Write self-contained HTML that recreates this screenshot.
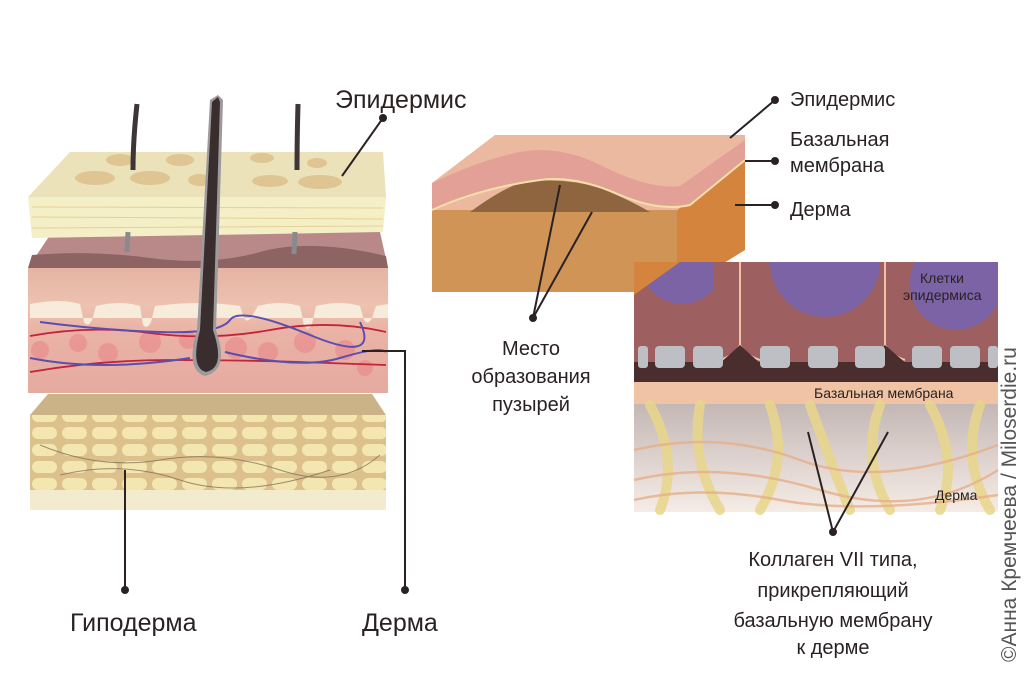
<!DOCTYPE html>
<html><head><meta charset="utf-8"><style>
body{margin:0;background:#fff;}
svg{display:block;font-family:"Liberation Sans","DejaVu Sans",sans-serif;}
</style></head><body>
<svg width="1024" height="683" viewBox="0 0 1024 683">
<defs>
<linearGradient id="dg" x1="0" y1="0" x2="0" y2="1">
<stop offset="0" stop-color="#6f6366"/><stop offset="0.45" stop-color="#b6a9a8"/><stop offset="1" stop-color="#f6ece6"/></linearGradient>
<linearGradient id="derm" x1="0" y1="0" x2="0" y2="1">
<stop offset="0" stop-color="#e6b4a3"/><stop offset="0.3" stop-color="#ecc2b0"/><stop offset="0.5" stop-color="#eab3a6"/><stop offset="1" stop-color="#e5aaa0"/></linearGradient>
<pattern id="fat" width="30" height="17" patternUnits="userSpaceOnUse">
<rect width="30" height="17" fill="#dcc18c"/><rect x="2" y="2" width="25" height="12" rx="6" fill="#f3e6b0"/></pattern>
</defs>
<!-- LEFT STACK -->
<polygon points="30,415 48,394 372,394 386,415" fill="#cbb387"/>
<rect x="30" y="415" width="356" height="78" fill="url(#fat)"/>
<rect x="30" y="490" width="356" height="20" fill="#f3ebcd"/>
<g stroke="#7a6650" stroke-width="1" fill="none" opacity="0.7"><path d="M40 445 Q100 470 160 460 T280 470 T380 455"/><path d="M60 475 Q120 460 180 480 T330 470"/></g>
<polygon points="28,268 52,232 380,232 388,268" fill="#b9898a"/>
<path d="M28 268 L32 255 Q90 250 150 258 T260 252 T386 256 L388 268Z" fill="#8d6364"/>
<rect x="28" y="268" width="360" height="125" fill="url(#derm)"/>
<path d="M30 304 Q60 298 80 304 L84 322 Q88 328 92 320 L96 306 Q120 300 140 306 L143 325 Q147 330 151 322 L155 306 Q200 300 240 306 L244 318 Q248 324 252 316 L258 306 Q280 300 300 306 L304 326 Q308 332 312 324 L316 306 Q340 300 360 306 L364 320 Q368 326 372 318 L376 306 L388 304 L388 318 L30 318Z" fill="#f7ecdc"/>
<g fill="#e9878c" opacity="0.6">
<circle cx="40" cy="350" r="9"/><circle cx="78" cy="343" r="9"/><circle cx="108" cy="353" r="10"/><circle cx="150" cy="342" r="11"/><circle cx="188" cy="340" r="9"/><circle cx="236" cy="348" r="11"/><circle cx="268" cy="352" r="10"/><circle cx="305" cy="342" r="11"/><circle cx="345" cy="350" r="10"/><circle cx="365" cy="368" r="8"/></g>
<g stroke="#c2243a" stroke-width="1.8" fill="none">
<path d="M30 336 Q90 325 150 333 T270 330 T386 332"/><path d="M30 372 Q100 360 170 360 T300 362 T386 365"/></g>
<g stroke="#5a4fb0" stroke-width="2" fill="none">
<path d="M40 322 Q100 330 160 332 T230 320 T310 335 T360 322"/><path d="M30 358 Q100 372 190 358 M225 352 Q300 370 340 358 T386 352"/></g>
<polygon points="28,197 70,152 383,152 386,197" fill="#ebe2ba"/>
<g fill="#dcc08c" opacity="0.85"><ellipse cx="120" cy="160" rx="14" ry="6"/><ellipse cx="180" cy="160" rx="14" ry="6"/><ellipse cx="262" cy="158" rx="12" ry="5"/><ellipse cx="95" cy="178" rx="20" ry="7"/><ellipse cx="150" cy="178" rx="20" ry="7"/><ellipse cx="200" cy="180" rx="12" ry="6"/><ellipse cx="270" cy="181" rx="18" ry="6"/><ellipse cx="320" cy="182" rx="22" ry="7"/><ellipse cx="317" cy="163" rx="10" ry="5"/></g>
<polygon points="28,197 386,197 383,232 32,238" fill="#f4efc6"/>
<g stroke="#e4d295" stroke-width="1"><line x1="32" y1="207" x2="383" y2="208"/><line x1="32" y1="217" x2="383" y2="219"/><line x1="32" y1="228" x2="383" y2="226"/></g>
<path d="M218 95 L223 100 L216 330 Q230 370 205 376 Q185 370 197 330 L210 100Z" fill="#9c9a9c"/>
<path d="M218 97 L220 102 L213 330 Q226 368 206 372 Q190 368 200 330 L212 102Z" fill="#3a2d2d"/>
<path d="M137 104 Q133 140 133 170" stroke="#3e3536" stroke-width="5" fill="none"/>
<path d="M128 232 L127 252" stroke="#8a8a8e" stroke-width="5" fill="none"/>
<path d="M298 104 Q297 140 297 170" stroke="#3e3536" stroke-width="5" fill="none"/>
<path d="M295 232 L294 254" stroke="#8a8a8e" stroke-width="5" fill="none"/>
<g stroke="#2a2222" stroke-width="2" fill="none">
<line x1="383" y1="118" x2="342" y2="176"/>
<polyline points="362,351 405,351 405,590"/>
<line x1="125" y1="470" x2="125" y2="590"/>
</g>
<g fill="#2a2222"><circle cx="383" cy="118" r="4"/><circle cx="405" cy="590" r="4"/><circle cx="125" cy="590" r="4"/></g>
<text x="335" y="108" font-size="25" fill="#2a2222">Эпидермис</text>
<text x="70" y="631" font-size="25" fill="#2a2222">Гиподерма</text>
<text x="362" y="631" font-size="25" fill="#2a2222">Дерма</text>
<!-- RIGHT TOP BLOCK -->
<polygon points="432,210 677,210 677,292 432,292" fill="#cf9456"/>
<polygon points="677,210 745,160 745,250 677,292" fill="#d4843c"/>
<polygon points="432,183 495,135 745,135 745,160 677,210 432,210" fill="#ebb9a0"/>
<path d="M432 183 Q480 160 520 152 Q560 145 600 165 Q650 190 680 186 L745 140 L745 160 L690 205 Q660 212 620 195 Q575 175 540 180 Q480 188 432 210Z" fill="#e3a097"/>
<path d="M470 212 Q500 190 520 183 Q560 176 600 188 Q630 200 650 212Z" fill="#8f6540"/>
<path d="M432 210 Q480 188 540 180 Q575 175 620 195 Q660 212 690 205 L745 160" stroke="#f2e0a8" stroke-width="2" fill="none"/>
<!-- RIGHT PANEL -->
<rect x="634" y="262" width="364" height="250" fill="url(#dg)"/>
<rect x="634" y="262" width="364" height="100" fill="#9d5f5f"/>
<g fill="#7c63a6"><path d="M640 262 A42 42 0 0 0 713 290 L713 262Z"/><path d="M770 262 A55 55 0 0 0 880 262Z"/><path d="M915 262 A45 45 0 0 0 997 305 L997 262Z"/></g>
<polygon points="634,262 680,262 634,295" fill="#d4843c"/>
<g stroke="#efc4a4" stroke-width="2" fill="none"><path d="M740 262 L740 345 Q735 355 720 360"/><path d="M740 345 Q745 355 760 360"/><path d="M885 262 L885 345 Q880 355 865 360"/><path d="M885 345 Q890 355 905 360"/></g>
<rect x="634" y="362" width="364" height="20" fill="#4a2e2e"/>
<g fill="#4a2e2e"><polygon points="718,365 740,345 762,365"/><polygon points="862,365 885,345 908,365"/></g>
<g fill="#bdbfc4"><rect x="638" y="346" width="10" height="22" rx="3"/><rect x="655" y="346" width="30" height="22" rx="4"/><rect x="693" y="346" width="30" height="22" rx="4"/><rect x="760" y="346" width="30" height="22" rx="4"/><rect x="808" y="346" width="30" height="22" rx="4"/><rect x="855" y="346" width="30" height="22" rx="4"/><rect x="912" y="346" width="30" height="22" rx="4"/><rect x="950" y="346" width="30" height="22" rx="4"/><rect x="988" y="346" width="10" height="22" rx="3"/></g>
<rect x="634" y="382" width="364" height="22" fill="#efc3a4"/>
<g stroke="#e9d68a" stroke-width="10" fill="none" opacity="0.85" stroke-linecap="round">
<path d="M650 405 Q680 460 660 510"/><path d="M700 405 Q690 460 720 510"/><path d="M770 405 Q790 460 760 510"/><path d="M810 405 Q830 460 850 510"/><path d="M880 405 Q860 460 890 510"/><path d="M930 405 Q960 460 940 510"/><path d="M980 405 Q960 460 990 510"/></g>
<g stroke="#e6b08a" stroke-width="2.5" fill="none" opacity="0.8">
<path d="M634 450 Q720 430 800 460 T998 445"/><path d="M634 480 Q720 460 820 490 T998 470"/><path d="M634 500 Q700 485 780 500 T998 495"/></g>
<text x="920" y="283" font-size="14" fill="#2a2222">Клетки</text>
<text x="903" y="300" font-size="14" fill="#2a2222">эпидермиса</text>
<text x="814" y="398" font-size="14" fill="#2a2222">Базальная мембрана</text>
<text x="935" y="500" font-size="14" fill="#2a2222">Дерма</text>
<g stroke="#2a2222" stroke-width="2" fill="none">
<line x1="775" y1="100" x2="730" y2="138"/><line x1="775" y1="161" x2="745" y2="161"/><line x1="775" y1="205" x2="735" y2="205"/>
<line x1="533" y1="318" x2="560" y2="185"/><line x1="533" y1="318" x2="592" y2="212"/>
<line x1="833" y1="532" x2="808" y2="432"/><line x1="833" y1="532" x2="888" y2="432"/></g>
<g fill="#2a2222"><circle cx="775" cy="100" r="4"/><circle cx="775" cy="161" r="4"/><circle cx="775" cy="205" r="4"/><circle cx="533" cy="318" r="4"/><circle cx="833" cy="532" r="4"/></g>
<g font-size="20" fill="#2a2222">
<text x="790" y="106">Эпидермис</text>
<text x="790" y="146">Базальная</text>
<text x="790" y="172">мембрана</text>
<text x="790" y="216">Дерма</text>
<text x="531" y="355" text-anchor="middle">Место</text>
<text x="531" y="383" text-anchor="middle">образования</text>
<text x="531" y="411" text-anchor="middle">пузырей</text>
<text x="833" y="566" text-anchor="middle">Коллаген VII типа,</text>
<text x="833" y="597" text-anchor="middle">прикрепляющий</text>
<text x="833" y="627" text-anchor="middle">базальную мембрану</text>
<text x="833" y="654" text-anchor="middle">к дерме</text>
</g>
<text transform="translate(1016,662) rotate(-90)" font-size="21" fill="#555">©Анна Кремчеева / Miloserdie.ru</text>
</svg>
</body></html>
